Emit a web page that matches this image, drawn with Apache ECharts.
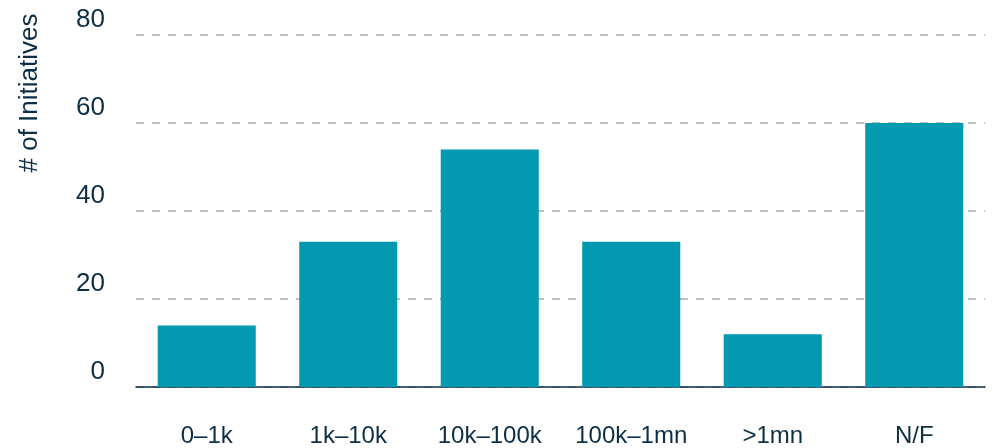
<!DOCTYPE html>
<html>
<head>
<meta charset="utf-8">
<script src="https://cdn.jsdelivr.net/npm/echarts@6/dist/echarts.min.js"></script>
<style>
  html, body { margin: 0; padding: 0; background: #ffffff; }
  #chart { width: 994px; height: 448px; }
</style>
</head>
<body>
<div id="chart"></div>
<script>
// Initiatives grouped by size band
const categories = ['0–1k', '1k–10k', '10k–100k', '100k–1mn', '>1mn', 'N/F'];
const initiatives = [14, 33, 54, 33, 12, 60];
const yTicks = [0, 20, 40, 60, 80];
const yTitle = '# of Initiatives';

const textColor = '#0c2f45';
const barColor = '#039ab1';
const fontStack = '"Liberation Sans", Arial, Helvetica, sans-serif';

const chart = echarts.init(document.getElementById('chart'));
chart.setOption({
  animation: false,
  backgroundColor: '#ffffff',
  grid: { left: 136, right: 9, top: 35, bottom: 61 },
  xAxis: {
    type: 'category',
    data: categories,
    axisTick: { show: false },
    axisLine: { lineStyle: { color: '#0d2d40', width: 1.5 } },
    axisLabel: {
      interval: 0,
      color: textColor,
      fontFamily: fontStack,
      fontSize: 24,
      margin: 37
    }
  },
  yAxis: {
    type: 'value',
    min: yTicks[0],
    max: yTicks[yTicks.length - 1],
    interval: 20,
    axisLine: { show: false },
    axisTick: { show: false },
    splitLine: {
      lineStyle: { color: '#a3adb5', type: [8, 8], width: 1.5 }
    },
    axisLabel: {
      color: textColor,
      fontFamily: fontStack,
      fontSize: 26,
      margin: 31,
      verticalAlign: 'bottom',
      lineHeight: 30
    }
  },
  graphic: [{
    type: 'text',
    x: 30,
    y: 93,
    rotation: Math.PI / 2,
    style: {
      text: yTitle,
      fill: textColor,
      font: '26px ' + fontStack,
      textAlign: 'center',
      textVerticalAlign: 'middle'
    }
  }],
  series: [{
    type: 'bar',
    data: initiatives,
    barCategoryGap: '30.7%',
    itemStyle: { color: barColor }
  }]
});
</script>
</body>
</html>
